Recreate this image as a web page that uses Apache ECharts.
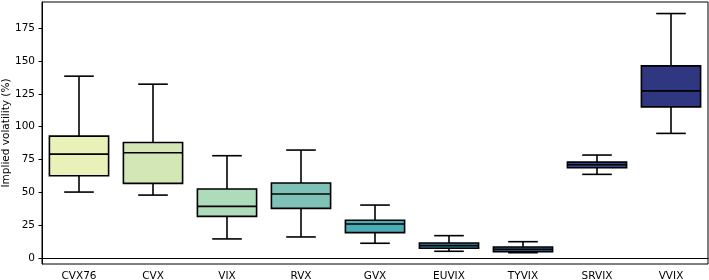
<!DOCTYPE html>
<html>
<head>
<meta charset="utf-8">
<script src="https://cdn.jsdelivr.net/npm/echarts@6/dist/echarts.min.js"></script>
<style>
html, body { margin: 0; padding: 0; background: #fff; }
#box { width: 709px; height: 280px; }
</style>
</head>
<body>
<div id="box"></div>
<script>
// index values
var categories = ['CVX76', 'CVX', 'VIX', 'RVX', 'GVX', 'EUVIX', 'TYVIX', 'SRVIX', 'VVIX'];
var lows    = [50.2, 47.9, 14.5, 16.0, 11.2, 5.1, 4.0, 63.7, 94.9];
var q1s     = [62.6, 56.8, 31.7, 37.8, 19.3, 7.4, 4.8, 68.7, 115.1];
var medians = [79.1, 80.1, 39.3, 48.7, 25.9, 9.4, 6.6, 71.0, 127.3];
var q3s     = [92.8, 88.0, 52.5, 57.1, 28.7, 11.4, 8.4, 73.0, 146.3];
var highs   = [138.5, 132.4, 77.9, 82.2, 40.3, 17.0, 12.4, 78.4, 186.2];
var yTicks  = [0, 25, 50, 75, 100, 125, 150, 175];

var palette = ['#e9f1b9', '#d3e6b6', '#aedbba', '#7fc1b7', '#4dabb5', '#3389ad', '#2f6a9f', '#2d4891', '#2e3780'];

var data = categories.map(function (c, i) {
    return [i, lows[i], q1s[i], medians[i], q3s[i], highs[i]];
});

function renderBox(params, api) {
    var i = api.value(0);
    var lo = api.coord([i, api.value(1)]);
    var q1 = api.coord([i, api.value(2)]);
    var md = api.coord([i, api.value(3)]);
    var q3 = api.coord([i, api.value(4)]);
    var hi = api.coord([i, api.value(5)]);
    var w = api.size([1, 0])[0] * 0.8;
    var x = lo[0];
    var ln = { stroke: '#000', lineWidth: 1.6 };
    return {
        type: 'group',
        children: [
            { type: 'line', shape: { x1: x, y1: q3[1], x2: x, y2: hi[1] }, style: ln },
            { type: 'line', shape: { x1: x, y1: q1[1], x2: x, y2: lo[1] }, style: ln },
            { type: 'line', shape: { x1: x - w / 4, y1: hi[1], x2: x + w / 4, y2: hi[1] }, style: ln },
            { type: 'line', shape: { x1: x - w / 4, y1: lo[1], x2: x + w / 4, y2: lo[1] }, style: ln },
            { type: 'rect', shape: { x: x - w / 2, y: q3[1], width: w, height: q1[1] - q3[1] },
              style: { fill: palette[i], stroke: '#000', lineWidth: 1.6 } },
            { type: 'line', shape: { x1: x - w / 2, y1: md[1], x2: x + w / 2, y2: md[1] }, style: ln }
        ]
    };
}

var option = {
    animation: false,
    textStyle: { fontFamily: 'DejaVu Sans' },
    grid: {
        left: 42, right: 1, top: 2, bottom: 16,
        outerBoundsMode: 'none',
        containLabel: false,
        show: true, borderColor: '#000', borderWidth: 1
    },
    xAxis: {
        type: 'category',
        data: categories,
        boundaryGap: true,
        axisLine: { lineStyle: { color: '#000', width: 1 } },
        axisTick: { alignWithLabel: true, length: 3.5, lineStyle: { color: '#000' } },
        axisLabel: { color: '#000', fontSize: 10.5, margin: 7 },
        splitLine: { show: false }
    },
    yAxis: {
        type: 'value',
        min: -4.6,
        max: 195,
        name: 'Implied volatility (%)',
        nameLocation: 'middle',
        nameGap: 30,
        nameRotate: 90,
        nameMoveOverlap: false,
        nameTextStyle: { color: '#000', fontSize: 10.5 },
        axisLine: { show: true, lineStyle: { color: '#000', width: 1 } },
        axisTick: { show: true, length: 3.5, lineStyle: { color: '#000' }, customValues: yTicks },
        axisLabel: { color: '#000', fontSize: 10.5, margin: 7, customValues: yTicks },
        splitLine: { show: false }
    },
    series: [{
        type: 'custom',
        renderItem: renderBox,
        encode: { x: 0, y: [1, 2, 3, 4, 5] },
        data: data
    }]
};

var chart = echarts.init(document.getElementById('box'));
chart.setOption(option);
</script>
</body>
</html>
